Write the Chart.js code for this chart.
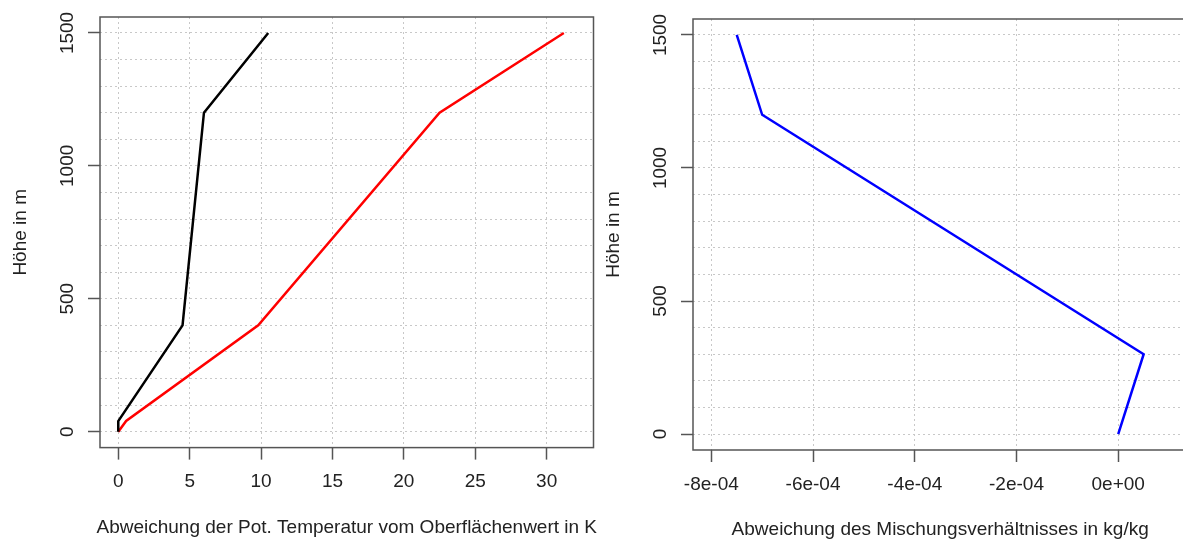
<!DOCTYPE html>
<html>
<head>
<meta charset="utf-8">
<script src="https://cdn.jsdelivr.net/npm/chart.js@4.4.0/dist/chart.umd.min.js"></script>
<style>
html, body { margin: 0; padding: 0; background: #fff; overflow: hidden; }
#wrap { position: relative; width: 1183px; height: 543px; overflow: hidden; }
canvas { position: absolute; top: 0; }
</style>
</head>
<body>
<div id="wrap">
  <canvas id="links" width="600" height="543" style="left:0"></canvas>
  <canvas id="rechts" width="600" height="543" style="left:593px"></canvas>
</div>
<script>
// Profile: Hoehe in m
const hoehe = [0, 40, 400, 1200, 1500];
const thetaSchwarz = [0, 0, 4.5, 6, 10.5];
const thetaRot = [0, 0.55, 9.8, 22.5, 31.2];

const hoeheQ = [0, 300, 1200, 1500];
const mischQ = [0, 5e-5, -7e-4, -7.5e-4];

// Achsen
const xTicksLinks = [0, 5, 10, 15, 20, 25, 30];
const xLabelsLinks = ['0', '5', '10', '15', '20', '25', '30'];
const xTicksRechts = [-8e-4, -6e-4, -4e-4, -2e-4, 0];
const xLabelsRechts = ['-8e-04', '-6e-04', '-4e-04', '-2e-04', '0e+00'];
const yGitter = [0, 100, 200, 300, 400, 500, 600, 700, 800, 900, 1000, 1100, 1200, 1300, 1400, 1500];
const yTicks = [0, 500, 1000, 1500];

Chart.defaults.font.family = '"Liberation Sans", Arial, sans-serif';
Chart.defaults.font.size = 19;
Chart.defaults.color = '#222';

const punkte = (xs, ys) => xs.map((x, i) => ({x: x, y: ys[i]}));

const rahmen = {
    id: 'rahmen',
    afterDraw(chart, args, opts) {
        const {ctx, chartArea: a} = chart;
        ctx.save();
        ctx.strokeStyle = '#555';
        ctx.lineWidth = 1.5;
        ctx.strokeRect(a.left, a.top, a.right - a.left, a.bottom - a.top);
        ctx.fillStyle = '#222';
        ctx.font = '19px "Liberation Sans", Arial, sans-serif';
        ctx.textAlign = 'center';
        ctx.textBaseline = 'middle';
        ctx.fillText(opts.text, (a.left + a.right) / 2, a.bottom + opts.offset);
        ctx.restore();
    }
};

function diagramm(id, datasets, xmin, xmax, xTicks, xLabels, xTitle, top, right, xHoehe) {
    return new Chart(document.getElementById(id), {
        type: 'line',
        data: {datasets: datasets},
        plugins: [rahmen],
        options: {
            responsive: false,
            animation: false,
            devicePixelRatio: 1,
            layout: {padding: {left: 0, top: top, right: right, bottom: 0}},
            plugins: {
                legend: {display: false},
                tooltip: {enabled: false},
                rahmen: {text: xTitle, offset: 80}
            },
            elements: {point: {radius: 0}, line: {tension: 0, borderWidth: 2.5}},
            scales: {
                x: {
                    type: 'linear',
                    min: xmin,
                    max: xmax,
                    afterBuildTicks: s => { s.ticks = xTicks.map(v => ({value: v})); },
                    afterFit: s => { s.height = xHoehe; },
                    border: {display: false, dash: [2, 3]},
                    grid: {color: '#c8c8c8', lineWidth: 1, tickLength: 12, tickColor: '#555', tickWidth: 1.5},
                    ticks: {autoSkip: false, maxRotation: 0, padding: 11, callback: (v, i) => xLabels[i]}
                },
                y: {
                    type: 'linear',
                    min: -60,
                    max: 1560,
                    afterBuildTicks: s => { s.ticks = yGitter.map(v => ({value: v})); },
                    afterFit: s => { s.width = 100; },
                    border: {display: false, dash: [2, 3]},
                    grid: {
                        color: '#c8c8c8', lineWidth: 1, tickLength: 12, tickWidth: 1.5,
                        tickColor: c => (c.tick && yTicks.includes(c.tick.value)) ? '#555' : 'rgba(0,0,0,0)'
                    },
                    ticks: {
                        autoSkip: false, minRotation: 90, maxRotation: 90, crossAlign: 'center', padding: -0.6,
                        callback: v => yTicks.includes(v) ? String(v) : ''
                    },
                    title: {display: true, text: 'Höhe in m', padding: {top: 9, bottom: 0}}
                }
            }
        }
    });
}

diagramm('links', [
    {data: punkte(thetaSchwarz, hoehe), borderColor: '#000000'},
    {data: punkte(thetaRot, hoehe), borderColor: '#ff0000'}
], -1.28, 33.28, xTicksLinks, xLabelsLinks,
   'Abweichung der Pot. Temperatur vom Oberflächenwert in K', 17, 6.5, 95.4);

diagramm('rechts', [
    {data: punkte(mischQ, hoeheQ), borderColor: '#0000ff'}
], -8.36e-4, 1.36e-4, xTicksRechts, xLabelsRechts,
   'Abweichung des Mischungsverhältnisses in kg/kg', 19, 5.6, 93);
</script>
</body>
</html>
